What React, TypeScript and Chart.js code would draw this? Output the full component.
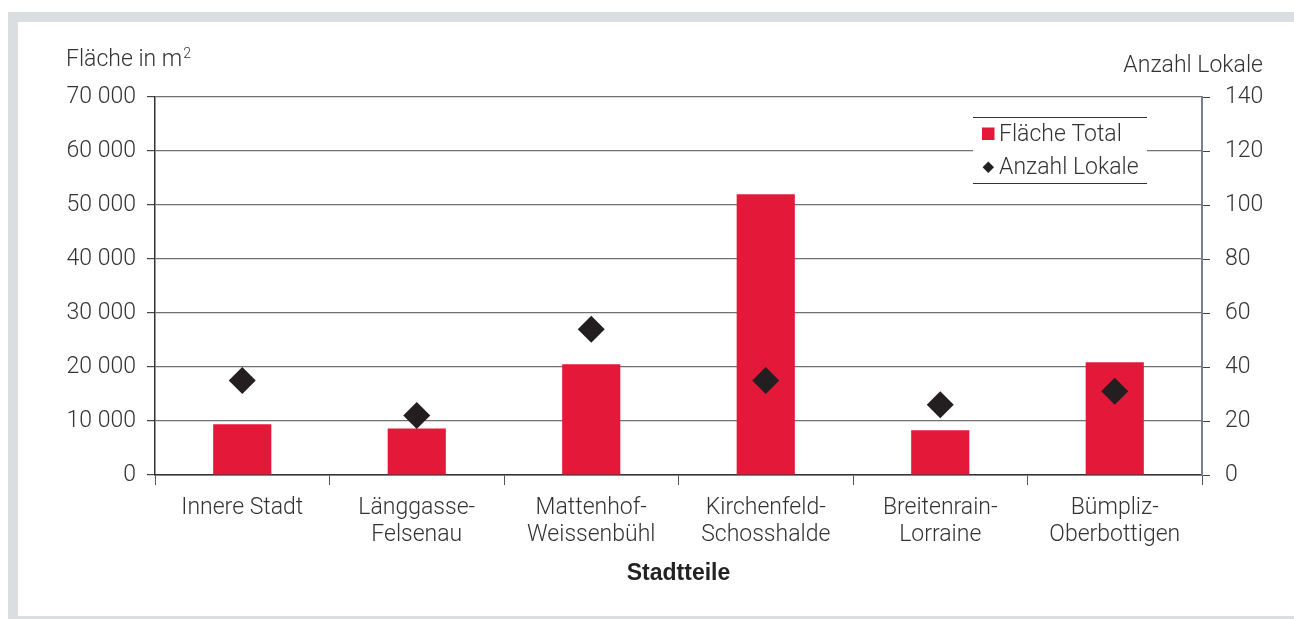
import React, { useEffect, useRef } from 'react';
import { Chart, registerables } from 'chart.js';

Chart.register(...registerables);

const categories: string[][] = [
  ['Innere Stadt'],
  ['Länggasse-', 'Felsenau'],
  ['Mattenhof-', 'Weissenbühl'],
  ['Kirchenfeld-', 'Schosshalde'],
  ['Breitenrain-', 'Lorraine'],
  ['Bümpliz-', 'Oberbottigen'],
];
const flaecheTotal = [9400, 8600, 20500, 52000, 8300, 20900];
const anzahlLokale = [35, 22, 54, 35, 26, 31];
const leftAxisRange = [0, 70000, 10000];
const rightAxisRange = [0, 140, 20];
const seriesNames = ['Fläche Total', 'Anzahl Lokale'];
const leftTitle = 'Fläche in m';
const leftTitleSup = '2';
const rightTitle = 'Anzahl Lokale';
const xTitle = 'Stadtteile';

const FONT = "Roboto, 'Liberation Sans', sans-serif";
const FS = 23;
const TEXT = '#333333';
const RED = '#e4193a';
const DARK = '#231f20';

const fmt = (v: number) => String(v).replace(/\B(?=(\d{3})+(?!\d))/g, ' ');

const framePlugin = {
  id: 'frame',
  beforeDraw(chart: any) {
    const { ctx, width, height } = chart;
    ctx.save();
    ctx.fillStyle = '#ffffff';
    ctx.fillRect(0, 0, width, height);
    ctx.fillStyle = '#dcdde0';
    ctx.fillRect(8, 12, width - 8, 10);
    ctx.fillRect(8, 12, 10, height - 12);
    ctx.fillRect(8, 616, width - 8, 3);
    ctx.restore();
  },
  afterDraw(chart: any) {
    const { ctx } = chart;
    ctx.save();
    ctx.font = `300 ${FS}px ${FONT}`;
    ctx.fillStyle = TEXT;
    ctx.textBaseline = 'alphabetic';
    ctx.textAlign = 'left';
    ctx.fillText(leftTitle, 66, 66);
    const w = ctx.measureText(leftTitle).width;
    ctx.font = `300 14px ${FONT}`;
    ctx.fillText(leftTitleSup, 66 + w + 1, 58);
    ctx.font = `300 ${FS}px ${FONT}`;
    ctx.textAlign = 'right';
    ctx.fillText(rightTitle, 1263, 72);

    // legend
    const lx = 973, rx = 1147, ty = 117, by = 183;
    ctx.fillStyle = '#ffffff';
    ctx.fillRect(lx, ty, rx - lx, by - ty);
    ctx.strokeStyle = '#333333';
    ctx.lineWidth = 1;
    ctx.beginPath();
    ctx.moveTo(lx, ty + 0.5);
    ctx.lineTo(rx, ty + 0.5);
    ctx.moveTo(lx, by + 0.5);
    ctx.lineTo(rx, by + 0.5);
    ctx.stroke();
    ctx.fillStyle = RED;
    ctx.fillRect(982, 127.5, 12.5, 12.5);
    ctx.fillStyle = DARK;
    ctx.beginPath();
    ctx.moveTo(988.3, 161.5);
    ctx.lineTo(994, 167.2);
    ctx.lineTo(988.3, 172.9);
    ctx.lineTo(982.6, 167.2);
    ctx.closePath();
    ctx.fill();
    ctx.fillStyle = TEXT;
    ctx.textAlign = 'left';
    ctx.textBaseline = 'alphabetic';
    ctx.fillText(seriesNames[0], 999, 141);
    ctx.fillText(seriesNames[1], 999, 173.5);
    ctx.restore();
  },
};

export default function App() {
  const ref = useRef<HTMLCanvasElement>(null);
  useEffect(() => {
    if (!ref.current) return;
    const chart = new Chart(ref.current, {
      type: 'bar',
      data: {
        labels: categories as any,
        datasets: [
          {
            type: 'line' as any,
            label: seriesNames[1],
            data: anzahlLokale,
            yAxisID: 'y1',
            showLine: false,
            pointStyle: 'rectRot',
            pointRadius: 13.5,
            pointHoverRadius: 13.5,
            backgroundColor: DARK,
            borderColor: DARK,
            borderWidth: 0,
            order: 0,
          } as any,
          {
            type: 'bar',
            label: seriesNames[0],
            data: flaecheTotal,
            yAxisID: 'y',
            backgroundColor: RED,
            borderWidth: 0,
            categoryPercentage: 1,
            barPercentage: 1 / 3,
            order: 1,
          },
        ],
      },
      options: {
        responsive: false,
        animation: false,
        events: [],
        layout: { padding: { top: 97, left: 0, right: 0, bottom: 0 } },
        plugins: {
          legend: { display: false },
          tooltip: { enabled: false },
          title: { display: false },
        },
        scales: {
          x: {
            position: 'bottom',
            offset: true,
            afterFit: (s: any) => { s.height = 144; },
            grid: {
              display: true,
              drawOnChartArea: false,
              offset: true,
              tickLength: 10,
              tickColor: '#555555',
              tickWidth: 1,
            },
            border: { display: true, color: '#333333', width: 1.5 },
            ticks: {
              color: TEXT,
              padding: 10,
              maxRotation: 0,
              autoSkip: false,
              font: { family: FONT, size: FS, weight: '300' as any, lineHeight: 27 / FS },
            },
            title: {
              display: true,
              text: xTitle,
              color: '#222222',
              font: { family: "'Liberation Sans', Arial, sans-serif", size: 23, weight: 'bold', lineHeight: 1.2 },
              padding: { top: 0, bottom: 32 },
            },
          },
          y: {
            position: 'left',
            min: leftAxisRange[0],
            max: leftAxisRange[1],
            afterFit: (s: any) => { s.width = 155; },
            ticks: {
              stepSize: leftAxisRange[2],
              color: TEXT,
              padding: 11,
              font: { family: FONT, size: FS, weight: '300' as any },
              callback: (v: any) => fmt(Number(v)),
            },
            grid: {
              color: '#707070',
              lineWidth: 1.2,
              tickLength: 8,
              tickColor: '#444444',
            },
            border: { display: true, color: '#333333', width: 1.5 },
          },
          y1: {
            position: 'right',
            min: rightAxisRange[0],
            max: rightAxisRange[1],
            afterFit: (s: any) => { s.width = 92; },
            ticks: {
              stepSize: rightAxisRange[2],
              color: TEXT,
              padding: 15,
              font: { family: FONT, size: FS, weight: '300' as any },
            },
            grid: {
              drawOnChartArea: false,
              tickLength: 8,
              tickColor: '#444444',
            },
            border: { display: true, color: '#78808c', width: 2 },
          },
        },
      } as any,
      plugins: [framePlugin],
    });
    return () => chart.destroy();
  }, []);
  return (
    <div style={{ position: 'fixed', left: 0, top: 0, width: 1294, height: 619, background: '#fff' }}>
      <canvas ref={ref} width={1294} height={619} style={{ display: 'block', width: 1294, height: 619 }} />
    </div>
  );
}
